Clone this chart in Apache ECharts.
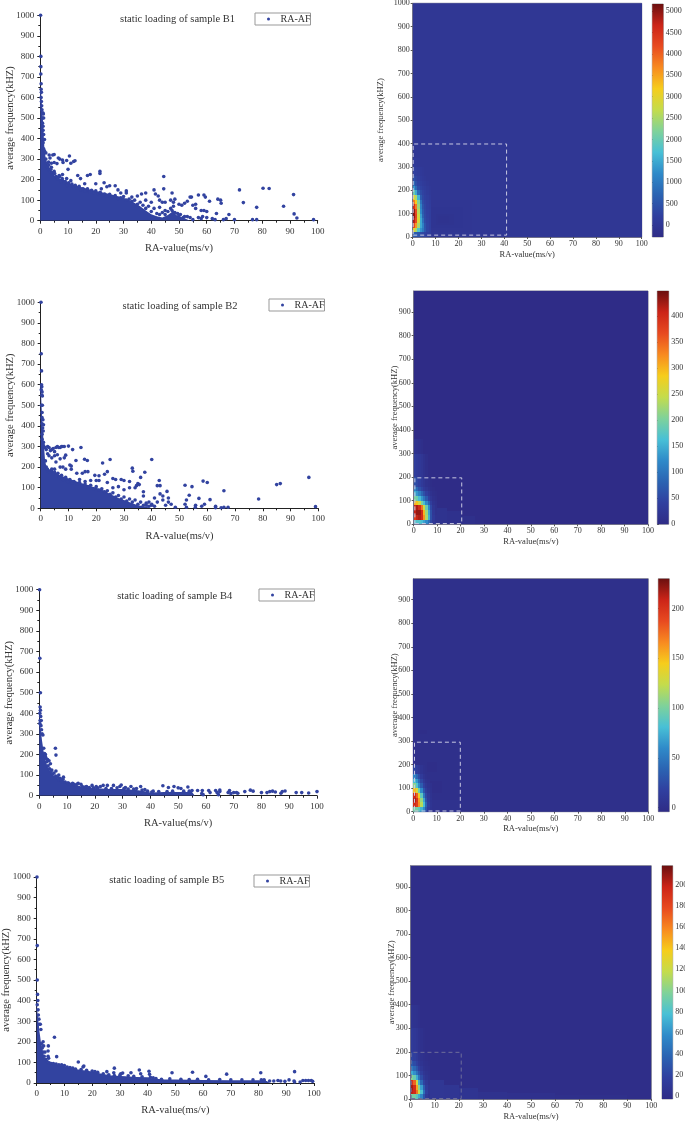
<!DOCTYPE html>
<html><head><meta charset="utf-8">
<style>html,body{margin:0;padding:0;background:#fff}#c{width:685px;height:1122px;filter:blur(0.6px)}</style>
<script src="https://cdn.jsdelivr.net/npm/echarts@6/dist/echarts.min.js"></script>
</head><body><div id="c"></div>
<script>
// ---------- shared ticks ----------
const xTickInterval = 10, yTickInterval = 100;
const heatYTicks = [0,100,200,300,400,500,600,700,800,900];
const heatYTicksB1 = [0,100,200,300,400,500,600,700,800,900,1000];
const colormap = ['#2f2c86','#303f9f','#2b63b2','#2f8ac9','#48c0d6','#7fd29a','#c4dc4c','#f6cd1c','#f88a20','#e84a20','#cc2418','#6b1010'];

// ---------- scatter: dense mass outline (RA, AF) ----------
const envB1 = [[0,650],[0.3,620],[0.5,580],[0.8,520],[1,480],[1.3,400],[1.5,345],[2,300],[3,255],[4,235],[5,220],[7,205],[10,185],[13,170],[17,155],[20,145],[25,130],[30,112],[33,95],[36,70],[38,50],[40,32],[42,22],[44,15],[46,28],[48,48],[49,28],[52,12],[54,0]];
const envB2 = [[0,600],[0.3,500],[0.6,420],[1,330],[1.3,280],[1.6,230],[2,205],[3,190],[5,178],[7,160],[10,145],[14,125],[17,112],[20,100],[23,85],[25,70],[28,50],[30,40],[33,25],[35,15],[38,8],[40,0]];
const envB4 = [[0,400],[0.3,350],[0.7,300],[1,265],[1.5,220],[2,185],[2.5,160],[3,140],[4,115],[5,100],[6,88],[8,70],[10,60],[13,52],[16,42],[20,37],[25,32],[30,32],[35,28],[38,22],[40,15],[45,18],[50,18],[55,18],[56,0]];
const envB5 = [[0,400],[0.3,340],[0.7,290],[1,250],[1.5,200],[2,170],[2.5,140],[3,115],[4,98],[6,94],[9,85],[12,74],[15,66],[20,56],[23,46],[27,36],[32,33],[36,29],[40,28],[42,22],[46,17],[50,17],[60,15],[70,13],[80,13],[83,10],[84,0]];

// ---------- scatter: individually visible points (RA, AF) ----------
const ptsB1 = [[0.1,1000],[0.2,800],[0.2,750],[0.2,714],[0.3,667],[0.3,640],[0.4,625],[0.3,600],[0.4,580],[0.5,560],[0.6,540],[0.9,525],[1.1,520],[0.9,500],[1.2,500],[0.8,475],[1,460],[1,440],[1.2,420],[1.5,395],[1,380],[1.2,350],[1.5,340],[2,330],[3.2,320],[3.5,305],[4.5,320],[5,322],[6.5,305],[7,300],[8,295],[8.2,283],[9.5,293],[10.5,315],[11,280],[12,288],[12.5,292],[10,250],[3,285],[4,280],[5,283],[6,278],[4,260],[3,250],[5,240],[7,215],[8,225],[6,210],[8,195],[9.5,205],[11,195],[13.5,220],[14.5,205],[16,180],[17,220],[18,225],[20,180],[21.5,240],[21.5,230],[22,155],[23,185],[24,165],[25,170],[27,170],[28,150],[29,135],[31,135],[31,145],[33,115],[35,120],[36.5,130],[38,135],[38,100],[40,90],[41,150],[41.5,130],[42.5,120],[43,100],[44.5,215],[44.5,155],[44,90],[45,90],[47.5,135],[47,100],[48,90],[48.5,105],[43,65],[45,50],[48,70],[50,80],[51,75],[52,85],[53,95],[54,115],[54.5,115],[55,75],[56,80],[56,60],[57,125],[58,50],[59,50],[59,125],[59.5,115],[60,45],[61,95],[60,15],[62,10],[63,5],[63.5,35],[64,105],[65,100],[65.2,85],[66,5],[67,10],[68,30],[70,5],[71.8,150],[73.2,88],[76.5,5],[78,65],[78,5],[80.3,158],[82.5,157],[87.7,70],[91.3,127],[91.5,33],[92.5,13],[98.5,5],[57,15],[55,5],[58,10],[58.5,20],[50,25],[52,20],[54,15]];
const edgeB1 = [[2,300],[2.3,280],[2.6,260],[3,270],[3.4,240],[3.8,250],[4.2,235],[4.6,225],[5.2,230],[5.7,215],[6.3,205],[6.8,220],[7.4,190],[7.9,205],[8.5,185],[9,190],[9.6,172],[10.2,185],[10.8,170],[11.4,178],[12,165],[12.6,172],[13.2,160],[14,168],[14.7,150],[15.4,155],[16.2,145],[17,155],[17.8,140],[18.5,148],[19.3,135],[20,145],[20.8,132],[21.6,138],[22.5,125],[23.2,130],[24,122],[25,128],[26,115],[27,122],[28,108],[29,112],[30,118],[31,100],[32,105],[33,95],[34,100],[35,80],[36,90],[37,75],[38,60],[39,70],[40,45],[41,60],[42,35],[43,30],[44,40],[45,30],[46,45],[47,60],[47.5,50],[48.5,40],[49.5,35],[50.5,30],[51.5,15],[53,20]];
const ptsB2 = [[0.1,1000],[0.2,750],[0.3,667],[0.3,600],[0.4,590],[0.2,575],[0.5,565],[0.4,550],[0.6,545],[0.3,500],[0.6,500],[0.5,465],[0.5,440],[0.8,430],[0.5,410],[1,405],[0.7,390],[0.9,375],[0.5,360],[0.5,335],[1,320],[1,305],[1.5,295],[2,285],[2.5,300],[3,295],[3.5,280],[4,285],[4.5,290],[5,275],[5.5,295],[6,300],[6.5,295],[7,295],[7.5,300],[8,300],[8.5,300],[10,302],[11.5,285],[14.5,295],[2.5,265],[3,255],[4,245],[5,255],[5.5,225],[6,260],[7,240],[8.5,245],[9,258],[12.7,232],[15.8,238],[16.8,232],[22.3,220],[25,237],[10.5,210],[11,205],[8,200],[7,200],[9,190],[5,190],[4,190],[11,190],[13,170],[15,170],[16,178],[17,178],[19.5,160],[21,158],[23,165],[24,178],[14,140],[16,130],[18,135],[20,135],[21,135],[24,125],[26,145],[27,140],[29,140],[30,135],[32,130],[33,195],[33.2,180],[36,150],[37.5,175],[35,120],[34,100],[32,100],[30,90],[28,105],[26,100],[37,80],[37,60],[35.5,115],[34.5,110],[40,237],[42.7,135],[42,110],[43,110],[45.5,82],[41,50],[39,30],[43,70],[44,60],[46,50],[46,30],[45,15],[47,20],[48.5,5],[44,40],[42,30],[40,15],[38,15],[52,112],[54.5,105],[53.5,63],[52.5,40],[52,20],[52.5,5],[57,48],[55.8,15],[55.7,5],[58.5,132],[60,125],[59,20],[61,42],[58,10],[63,10],[63,3],[65,3],[66,85],[67.5,5],[66,5],[78.5,45],[85,115],[86.3,120],[96.6,150],[99,8]];
const edgeB2 = [[1.7,230],[2,200],[2.4,190],[2.8,180],[3.2,175],[3.8,185],[4.4,165],[5,175],[5.6,158],[6.2,170],[6.8,150],[7.5,160],[8.2,140],[9,150],[9.7,130],[10.5,140],[11.2,122],[12,130],[13,118],[14,125],[15,110],[16,118],[17,105],[18,112],[19,95],[20,105],[21,88],[22,95],[23,80],[24,85],[25,68],[26,75],[27,55],[28,62],[29,45],[30,55],[31,35],[32,45],[33,30],[34,40],[35,20],[36,30],[37,15],[38,25],[39,10],[40,20],[41,10]];
const ptsB4 = [[0.1,1000],[0.2,667],[0.4,500],[0.3,430],[0.4,415],[0.2,400],[0.5,385],[0.3,365],[0.7,365],[0.2,350],[0.6,340],[0.8,320],[1,300],[1.3,295],[2.2,200],[2.5,180],[3,175],[3.5,170],[4,155],[4.5,125],[5.8,230],[6,197],[6,120],[7,100],[7.5,85],[8.7,90],[8.5,80],[10.5,62],[12,60],[14,60],[15,55],[17,45],[19,50],[20.5,45],[22,45],[23,50],[24.5,50],[26.7,50],[29,45],[29.5,52],[31,40],[33,45],[35,35],[36.5,45],[38,30],[41,22],[44.5,48],[46.5,40],[48.5,45],[50,38],[51,35],[53.5,42],[55,25],[57,25],[58.5,10],[58.7,25],[59,5],[61,25],[61.5,15],[63.5,25],[64,15],[65,28],[64.5,5],[65,20],[68,15],[68.5,25],[69,10],[70,15],[71,15],[71.5,12],[74,20],[76,27],[77,22],[80,15],[82,15],[83,20],[84,22],[85,18],[87,12],[87.5,20],[88.5,23],[92.5,15],[94.5,15],[97,13],[100,20]];
const edgeB4 = [[1.6,230],[1.9,205],[2.2,190],[2.7,165],[3.2,145],[3.7,130],[4.2,118],[4.8,105],[5.3,110],[5.9,95],[6.5,90],[7,78],[7.8,75],[8.5,68],[9.3,66],[10.2,62],[11.2,55],[12.5,55],[13.5,55],[15.5,45],[16.5,42],[18,40],[19.5,38],[21,38],[24,35],[26,35],[28,38],[30.5,35],[32,32],[34,32],[37,28],[39,22],[40.5,18],[43,20],[46,20],[48,22],[52,22],[54,22]];
const ptsB5 = [[0.1,1000],[0.2,667],[0.2,500],[0.3,430],[0.4,400],[0.2,380],[0.5,355],[0.6,330],[0.8,310],[1,285],[1.3,285],[1.5,260],[2.3,200],[2.5,180],[3,150],[4.2,180],[4.1,155],[4.1,130],[4.3,120],[6.4,222],[7.2,128],[15,102],[16.7,78],[17,82],[25.3,55],[28,72],[27.8,50],[30.3,45],[31,48],[34,50],[37,63],[37.5,45],[40.5,57],[40.7,42],[42,25],[48.8,50],[56.2,52],[61,32],[68.5,43],[80.8,50],[81,15],[82,12],[84,10],[85.5,10],[87,12],[88,10],[89.5,8],[91,15],[93,55],[92.8,10],[95,5],[96,12],[97,12],[98,12],[99,12],[99.5,8],[93,5]];
const edgeB5 = [[1.7,190],[2,170],[2.3,150],[2.7,130],[3.2,115],[3.7,105],[4.5,98],[5.2,95],[6,95],[7,92],[8,88],[9,88],[10,85],[11,78],[12,75],[13,72],[14,68],[16,65],[18,62],[20,58],[21,55],[22,52],[24,45],[26,40],[28,36],[30,38],[33,35],[35,32],[38,30],[41,28],[43,22],[45,18],[48,20],[52,18],[55,17],[58,18],[62,15],[66,17],[70,15],[74,15],[78,15],[82,15]];

// ---------- density maps: column edges, row edges, rows bottom-up ----------
const colEdges = [0,1,2,3,4,5,6,7,8];
const colEdgesB2 = [0,1,2,3,4,5,6,7,8,9,10];
const rowEdgesB1 = [0,20,40,60,80,100,120,140,160,180,200,220,240,260,300,340];
const heatB1 = [
 [700,600,500,400,320,260,200,150],
 [3000,2500,1800,1300,1000,550,280,180],
 [4200,3600,2500,1500,1100,500,280,180],
 [4800,4200,2900,1500,900,400,250,170],
 [5000,4300,2800,1400,700,350,230,160],
 [5000,4200,2600,1200,600,320,220,150],
 [4500,3800,2400,1100,500,300,200,130],
 [3800,3200,2200,900,400,260,180,110],
 [3000,2500,1600,600,320,220,150,90],
 [2000,1500,800,400,260,180,120,60],
 [1300,800,400,260,180,130,80,40],
 [800,450,260,180,120,80,40,0],
 [450,280,180,120,70,40,0,0],
 [230,160,110,70,40,0,0,0],
 [110,70,40,0,0,0,0,0]];
const patchB1 = [[8,26,20,160,-25],[8,22,40,130,-50],[10,18,50,100,-80],[11,16,60,90,-110]];
const rowEdgesB2 = [0,20,40,60,80,100,120,140,160,200,300,360];
const heatB2 = [
 [170,170,170,160,140,120,90,50,25,15],
 [380,410,420,400,320,230,150,60,30,15],
 [410,430,430,400,300,220,140,60,25,12],
 [400,420,400,340,250,190,120,50,20,10],
 [300,290,250,200,160,120,80,35,15,8],
 [200,190,160,130,100,70,40,20,10,5],
 [150,130,110,85,60,40,25,12,6,3],
 [110,85,60,45,30,20,12,6,3,0],
 [60,50,40,30,20,12,8,3,0,0],
 [35,30,25,20,12,5,0,0,0,0],
 [15,12,8,5,0,0,0,0,0,0]];
const patchB2 = [[10,14,0,70,14],[14,20,0,55,10],[20,26,0,35,7],[26,30,0,20,4]];
const rowEdgesB4 = [0,20,40,60,80,100,120,140,160,200];
const heatB4 = [
 [100,100,90,75,60,30,12,5],
 [205,195,165,120,80,40,15,6],
 [215,200,160,110,70,30,12,5],
 [205,180,140,90,50,22,10,4],
 [150,130,95,60,30,14,6,3],
 [105,85,60,35,18,8,4,2],
 [80,65,42,22,10,4,2,0],
 [55,40,25,12,5,2,0,0],
 [20,15,10,5,2,0,0,0]];
const patchB4 = [[8,20,0,50,3],[6,12,80,130,-1.5],[6,10,170,210,-1.5],[2,6,330,345,-1.5]];
const rowEdgesB5 = [0,20,40,60,80,100,120,140,160,200,300,400];
const heatB5 = [
 [95,95,85,70,55,30,12,6],
 [200,195,165,120,80,45,18,8],
 [205,195,150,100,65,35,14,7],
 [190,170,120,70,40,20,10,5],
 [100,90,70,45,25,12,7,4],
 [70,60,45,30,16,8,5,3],
 [50,40,30,18,10,5,3,2],
 [32,25,18,10,6,3,2,1],
 [20,16,12,7,4,2,1,0],
 [12,10,8,5,3,1,0,0],
 [6,5,4,2,0,0,0,0]];
const patchB5 = [[60,90,0,15,1.5],[40,60,0,25,3],[28,40,0,30,4],[20,28,0,45,6],[14,20,0,60,8],[8,14,0,80,9]];

// ---------- dashed selection boxes (RA, AF) ----------
const boxB1 = [[0.2,8],[41,8],[41,398],[0.2,398],[0.2,8]];
const boxB2 = [[0.5,3],[20.5,3],[20.5,197],[0.5,197],[0.5,3]];
const boxB4 = [[0.5,3],[20,3],[20,295],[0.5,295],[0.5,3]];
const boxB5 = [[0.2,2],[21,2],[21,198],[0.2,198],[0.2,2]];

// ---------- colour bars ----------
const cbRangeB1 = [-280,5164], cbTicksB1 = [0,500,1000,1500,2000,2500,3000,3500,4000,4500,5000];
const cbRangeB2 = [-1,448],   cbTicksB2 = [0,50,100,150,200,250,300,350,400];
const cbRangeB4 = [-4,230],   cbTicksB4 = [0,50,100,150,200];
const cbRangeB5 = [-2.5,218], cbTicksB5 = [0,20,40,60,80,100,120,140,160,180,200];

const FONT = 'Liberation Serif';
const plain = v => String(v);
const panels = [
 {s:'B1',env:envB1,pts:ptsB1.concat(edgeB1),title:[177.5,14],leg:[255,13],
  L:[40.3,15.3,277.4,205.4],yn:25,
  R:[412.7,3.3,229,233.7],rn:27,ymax:1000,yt:heatYTicksB1,cols:colEdges,rows:rowEdgesB1,heat:heatB1,patch:patchB1,box:boxB1,boxC:'#c9c9e2',
  C:[652.3,4,11,233],cb:cbRangeB1,cbt:cbTicksB1},
 {s:'B2',env:envB2,pts:ptsB2.concat(edgeB2),title:[180,301],leg:[269,299],
  L:[40.7,302.3,277.6,206],yn:25,
  R:[413.7,291,234.3,233.3],rn:14,ymax:989,yt:heatYTicks,cols:colEdgesB2,rows:rowEdgesB2,heat:heatB2,patch:patchB2,box:boxB2,boxC:'#c9c9e2',
  C:[657.3,291,11.4,233.3],cb:cbRangeB2,cbt:cbTicksB2},
 {s:'B4',env:envB4,pts:ptsB4.concat(edgeB4),title:[174.7,591],leg:[259,589],
  L:[39.3,589.7,277.7,206],yn:25,
  R:[413.3,578.7,235,233],rn:14,ymax:989,yt:heatYTicks,cols:colEdges,rows:rowEdgesB4,heat:heatB4,patch:patchB4,box:boxB4,boxC:'#c9c9e2',
  C:[658.3,578.7,11,233],cb:cbRangeB4,cbt:cbTicksB4},
 {s:'B5',env:envB5,pts:ptsB5.concat(edgeB5),title:[166.7,875],leg:[254,875],
  L:[36.7,877,277.3,206],yn:25,
  R:[410.7,865.7,240.6,233.3],rn:14.5,ymax:990,yt:heatYTicks,cols:colEdges,rows:rowEdgesB5,heat:heatB5,patch:patchB5,box:boxB5,boxC:'#6e6e9a',
  C:[662,865.7,10.7,233.3],cb:cbRangeB5,cbt:cbTicksB5}
];

function cellsOf(p){
  const out = [[0,100,0,p.ymax,0]];
  p.patch.forEach(c=>out.push(c));
  p.heat.forEach((row,j)=>row.forEach((v,i)=>{
    if(v!==0) out.push([p.cols[i],p.cols[i+1],p.rows[j],p.rows[j+1],v]);
  }));
  return out;
}
function renderCell(params,api){
  const a=api.coord([api.value(0),api.value(2)]), b=api.coord([api.value(1),api.value(3)]);
  const x0=Math.round(a[0]),x1=Math.round(b[0]),y0=Math.round(b[1]),y1=Math.round(a[1]);
  return {type:'rect',shape:{x:x0,y:y0,width:x1-x0,height:y1-y0},style:{fill:api.visual('color')}};
}
function renderBar(params,api){
  const a=api.coord([0,api.value(0)]), b=api.coord([1,api.value(1)]);
  return {type:'rect',shape:{x:a[0],y:b[1],width:b[0]-a[0],height:a[1]-b[1]},
    style:{fill:new echarts.graphic.LinearGradient(0,1,0,0,colormap.map((c,i)=>({offset:i/(colormap.length-1),color:c})))}};
}
const grids=[],xAxes=[],yAxes=[],series=[],titles=[],legends=[],vms=[];
function addGrid(r,extra){grids.push(Object.assign({left:r[0],top:r[1],width:r[2],height:r[3],outerBoundsMode:'none'},extra||{}));return grids.length-1;}
const nameFont={fontFamily:FONT,color:'#333'};

panels.forEach(p=>{
  // scatter panel
  let g=addGrid(p.L);
  const lineL={show:true,onZero:false,lineStyle:{color:'#222',width:1}};
  xAxes.push({gridIndex:g,type:'value',min:0,max:100,interval:xTickInterval,axisLine:lineL,splitLine:{show:false},
    axisTick:{length:3,lineStyle:{color:'#222'}},minorTick:{show:true,splitNumber:2,length:2,lineStyle:{color:'#222'}},
    axisLabel:{margin:6,fontFamily:FONT,fontSize:9,color:'#333',formatter:plain},
    name:'RA-value(ms/v)',nameLocation:'middle',nameGap:22,nameMoveOverlap:false,nameTextStyle:Object.assign({fontSize:10.5},nameFont)});
  yAxes.push({gridIndex:g,type:'value',min:0,max:1000,interval:yTickInterval,axisLine:lineL,splitLine:{show:false},
    axisTick:{length:3,lineStyle:{color:'#222'}},minorTick:{show:true,splitNumber:2,length:2,lineStyle:{color:'#222'}},
    axisLabel:{margin:6,fontFamily:FONT,fontSize:9,color:'#333',formatter:plain},
    name:'average frequency(kHZ)',nameLocation:'middle',nameGap:p.yn,nameMoveOverlap:false,nameTextStyle:Object.assign({fontSize:10.5},nameFont)});
  series.push({name:'mass '+p.s,type:'line',xAxisIndex:g,yAxisIndex:g,data:p.env,symbol:'none',lineStyle:{width:0},areaStyle:{color:'#3243a0',opacity:1},silent:true,animation:false,z:2});
  series.push({name:'RA-AF',type:'scatter',xAxisIndex:g,yAxisIndex:g,data:p.pts,symbol:'circle',symbolSize:3.6,itemStyle:{color:'#3243a0',opacity:1},clip:false,silent:true,animation:false,z:3});
  titles.push({text:'static loading of sample '+p.s,left:p.title[0],top:p.title[1],padding:0,textAlign:'center',textStyle:{fontFamily:FONT,fontSize:10.5,fontWeight:'normal',color:'#333'}});
  legends.push({data:['RA-AF'],left:p.leg[0],top:p.leg[1],orient:'horizontal',icon:'circle',itemWidth:8,itemHeight:3,padding:[1,0,1,12],selectedMode:false,
    borderColor:'#999',borderWidth:1,textStyle:{fontFamily:FONT,fontSize:10,color:'#333',padding:[0,0,0,3]}});

  // density panel
  g=addGrid(p.R,{show:true,borderColor:'#70708a',borderWidth:1,backgroundColor:'transparent'});
  const lineR={show:true,onZero:false,lineStyle:{color:'#70708a',width:1}};
  xAxes.push({gridIndex:g,type:'value',min:0,max:100,interval:xTickInterval,axisLine:lineR,splitLine:{show:false},
    axisTick:{length:2,lineStyle:{color:'#555'}},axisLabel:{margin:3,fontFamily:FONT,fontSize:8,color:'#333',formatter:plain},
    name:'RA-value(ms/v)',nameLocation:'middle',nameGap:13,nameMoveOverlap:false,nameTextStyle:Object.assign({fontSize:8.5},nameFont)});
  yAxes.push({gridIndex:g,type:'value',min:0,max:p.ymax,axisLine:lineR,splitLine:{show:false},
    axisTick:{length:2,customValues:p.yt,lineStyle:{color:'#555'}},axisLabel:{margin:3,customValues:p.yt,fontFamily:FONT,fontSize:8,color:'#333',formatter:plain},
    name:'average frequency(kHZ)',nameLocation:'middle',nameGap:p.rn,nameMoveOverlap:false,nameTextStyle:Object.assign({fontSize:8.5},nameFont)});
  vms.push({type:'continuous',show:false,seriesIndex:series.length,dimension:4,min:p.cb[0],max:p.cb[1],inRange:{color:colormap}});
  series.push({name:'density '+p.s,type:'custom',xAxisIndex:g,yAxisIndex:g,data:cellsOf(p),renderItem:renderCell,
    encode:{x:[0,1],y:[2,3]},silent:true,animation:false,z:2,clip:true});
  series.push({name:'box '+p.s,type:'line',xAxisIndex:g,yAxisIndex:g,data:p.box,symbol:'none',lineStyle:{type:[4,3],width:1,color:p.boxC},silent:true,animation:false,z:4});

  // colour bar
  g=addGrid(p.C,{show:true,borderColor:'#444',borderWidth:0.5});
  xAxes.push({gridIndex:g,type:'value',min:0,max:1,show:false});
  yAxes.push({gridIndex:g,type:'value',position:'right',min:p.cb[0],max:p.cb[1],splitLine:{show:false},axisLine:{show:false},
    axisTick:{show:true,inside:false,length:1.5,customValues:p.cbt,lineStyle:{color:'#444'}},
    axisLabel:{margin:2.5,customValues:p.cbt,fontFamily:FONT,fontSize:8,color:'#333',formatter:plain}});
  series.push({name:'bar '+p.s,type:'custom',xAxisIndex:g,yAxisIndex:g,data:[p.cb],renderItem:renderBar,
    encode:{y:[0,1]},silent:true,animation:false,z:2,clip:false});
});

const chart=echarts.init(document.getElementById('c'),null,{renderer:'canvas'});
chart.setOption({animation:false,backgroundColor:'#fff',title:titles,legend:legends,grid:grids,xAxis:xAxes,yAxis:yAxes,visualMap:vms,series:series,tooltip:{show:false}});
</script></body></html>
